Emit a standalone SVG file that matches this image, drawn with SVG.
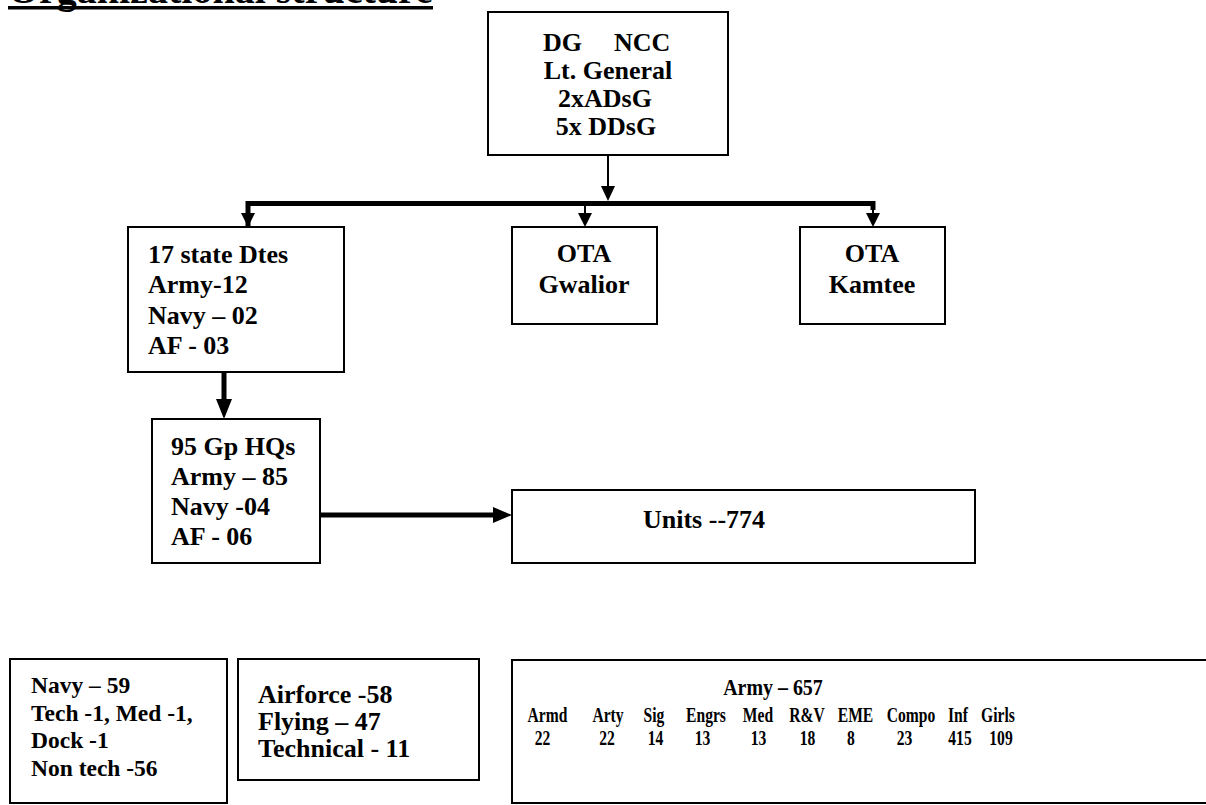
<svg xmlns="http://www.w3.org/2000/svg" width="1206" height="805" viewBox="0 0 1206 805">
<defs>
<style>
.box{fill:#fff;stroke:#000;stroke-width:2}
.t{font-family:"Liberation Serif","Times New Roman",serif;font-weight:bold;fill:#000}
.t26{font-size:26px}
.t23{font-size:23.5px}
.mid{text-anchor:middle}
.thin{stroke:#000;stroke-width:2;fill:none}
.thick{stroke:#000;stroke-width:5;fill:none}
.head{fill:#000}
.ar{font-size:20px;text-anchor:middle}
</style>
</defs>
<rect width="1206" height="805" fill="#fff"/>
<g id="title">
<text class="t" x="8" y="3" font-size="40">Organizational structure</text>
<rect x="8" y="6" width="425" height="3.5" fill="#000"/>
</g>
<g id="dg">
<rect class="box" x="488" y="12" width="240" height="143"/>
<text class="t t26" x="543" y="51">DG</text>
<text class="t t26" x="614" y="51">NCC</text>
<text class="t t26 mid" x="608" y="79">Lt. General</text>
<text class="t t26 mid" x="605" y="107">2xADsG</text>
<text class="t t26 mid" x="606" y="135">5x DDsG</text>
</g>
<g id="states">
<rect class="box" x="128" y="227" width="216" height="145"/>
<text class="t t26" x="148" y="263">17 state Dtes</text>
<text class="t t26" x="148" y="293">Army-12</text>
<text class="t t26" x="148" y="324">Navy – 02</text>
<text class="t t26" x="148" y="354">AF - 03</text>
</g>
<g id="gwalior">
<rect class="box" x="512" y="227" width="145" height="97"/>
<text class="t t26 mid" x="584" y="262">OTA</text>
<text class="t t26 mid" x="584" y="293">Gwalior</text>
</g>
<g id="kamtee">
<rect class="box" x="800" y="227" width="145" height="97"/>
<text class="t t26 mid" x="872" y="262">OTA</text>
<text class="t t26 mid" x="872" y="293">Kamtee</text>
</g>
<g id="gphq">
<rect class="box" x="152" y="419" width="168" height="144"/>
<text class="t t26" x="171" y="455">95 Gp HQs</text>
<text class="t t26" x="171" y="485">Army – 85</text>
<text class="t t26" x="171" y="515">Navy -04</text>
<text class="t t26" x="171" y="545">AF - 06</text>
</g>
<g id="units">
<rect class="box" x="512" y="490" width="463" height="73"/>
<text class="t t26" x="643" y="528">Units --774</text>
</g>
<g id="navy">
<rect class="box" x="10" y="659" width="217" height="144"/>
<text class="t t23" x="31" y="693">Navy – 59</text>
<text class="t t23" x="31" y="721">Tech -1, Med -1,</text>
<text class="t t23" x="31" y="748">Dock -1</text>
<text class="t t23" x="31" y="776">Non tech -56</text>
</g>
<g id="airforce">
<rect class="box" x="238" y="659" width="241" height="121"/>
<text class="t t26" x="258" y="703">Airforce -58</text>
<text class="t t26" x="258" y="730">Flying – 47</text>
<text class="t t26" x="258" y="757">Technical - 11</text>
</g>
<g id="army">
<rect class="box" x="512" y="660" width="710" height="143"/>
<text class="t mid" font-size="24" transform="translate(773,695) scale(0.83,1)">Army – 657</text>
<g class="t ar">
<text transform="translate(547.5,722) scale(0.78,1)">Armd</text>
<text transform="translate(608,722) scale(0.78,1)">Arty</text>
<text transform="translate(654,722) scale(0.78,1)">Sig</text>
<text transform="translate(706,722) scale(0.78,1)">Engrs</text>
<text transform="translate(758,722) scale(0.78,1)">Med</text>
<text transform="translate(807,722) scale(0.78,1)">R&amp;V</text>
<text transform="translate(855.5,722) scale(0.78,1)">EME</text>
<text transform="translate(911,722) scale(0.78,1)">Compo</text>
<text transform="translate(958,722) scale(0.78,1)">Inf</text>
<text transform="translate(998,722) scale(0.78,1)">Girls</text>
<text transform="translate(542.5,745) scale(0.78,1)">22</text>
<text transform="translate(607,745) scale(0.78,1)">22</text>
<text transform="translate(655.5,745) scale(0.78,1)">14</text>
<text transform="translate(702.5,745) scale(0.78,1)">13</text>
<text transform="translate(758.5,745) scale(0.78,1)">13</text>
<text transform="translate(807.5,745) scale(0.78,1)">18</text>
<text transform="translate(851,745) scale(0.78,1)">8</text>
<text transform="translate(904.5,745) scale(0.78,1)">23</text>
<text transform="translate(960,745) scale(0.78,1)">415</text>
<text transform="translate(1001,745) scale(0.78,1)">109</text>
</g>
</g>
<g id="connectors">
<line class="thin" x1="608" y1="155" x2="608" y2="188"/>
<polygon class="head" points="601,186 615,186 608,201"/>
<path class="thick" d="M248,227 V203.5 H873 V210"/>
<line class="thin" x1="248" y1="203" x2="248" y2="215"/>
<polygon class="head" points="241,213 255,213 248,227"/>
<line class="thin" x1="585" y1="203" x2="585" y2="215"/>
<polygon class="head" points="578,213 592,213 585,227"/>
<line class="thin" x1="873" y1="203" x2="873" y2="215"/>
<polygon class="head" points="866,213 880,213 873,227"/>
<line class="thick" x1="224" y1="372" x2="224" y2="402"/>
<polygon class="head" points="216,399 232,399 224,419"/>
<line class="thick" x1="320" y1="515" x2="496" y2="515"/>
<polygon class="head" points="493,507 493,523 512,515"/>
</g>
</svg>
